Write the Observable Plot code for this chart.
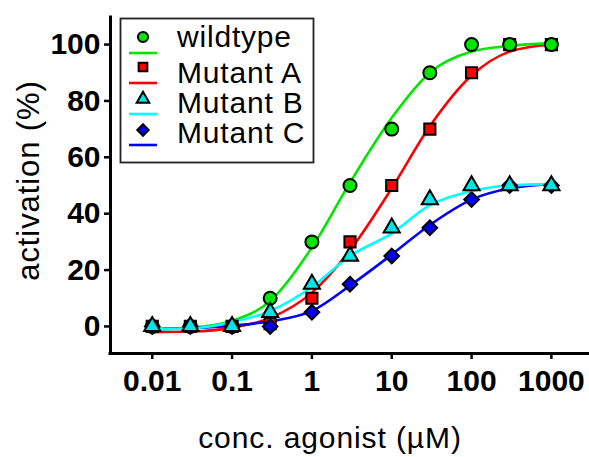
<!DOCTYPE html>
<html><head><meta charset="utf-8">
<script src="https://cdn.jsdelivr.net/npm/d3@7"></script>
<script src="https://cdn.jsdelivr.net/npm/@observablehq/plot@0.6"></script>
<style>
body{margin:0;background:#fff;}
#wrap{position:relative;width:589px;height:457px;font-family:"Liberation Sans",Arial,sans-serif;}
#wrap svg{display:block;}
#legend{position:absolute;left:0;top:0;pointer-events:none;}
</style></head><body><div id="wrap"></div>
<script>
// ---- data ----
const conc = [0.01, 0.03, 0.1, 0.3, 1, 3, 10, 30, 100, 300, 1000];
const wildtype = [0, 0, 0, 10, 30, 50, 70, 90, 100, 100, 100];
const mutantA  = [0, 0, 0, 1, 10, 30, 50, 70, 90, 100, 100];
const mutantB  = [0, 0, 0, 5, 15, 25, 35, 45, 50, 50, 50];
const mutantC  = [0, 0, 0, 0, 5, 15, 25, 35, 45, 50, 50];
// fitted curves at the same concentrations
const fitWildtype = [-1, -0.5, 2, 9, 28, 51, 74, 90, 97.5, 99.5, 100.5];
const fitMutantA  = [-2, -1.8, -0.5, 3, 12, 27, 49, 71, 89, 97.5, 100];
const fitMutantB  = [-1, -0.7, 1.5, 5.5, 14, 25, 33, 43, 48, 50, 50.5];
const fitMutantC  = [-1, -0.6, 0.3, 1.8, 5.5, 14.5, 25.5, 36, 45, 49, 50.5];
const seriesNames = ["wildtype", "Mutant A", "Mutant B", "Mutant C"];
const xTicks = [0.01, 0.1, 1, 10, 100, 1000];
const xTickLabels = ["0.01", "0.1", "1", "10", "100", "1000"];
const yTicks = [0, 20, 40, 60, 80, 100];
const xDomain = [0.003, 3000];
const yDomain = [-9.6, 109.6];
const xLabel = "conc. agonist (µM)";
const yLabel = "activation (%)";

// ---- styles ----
const styles = {
  "wildtype": {line: "#00e600", fill: "#00e600", symbol: "circle", r: 6.5},
  "Mutant A": {line: "#ff0000", fill: "#ff0000", symbol: "square", r: 6.3},
  "Mutant B": {line: "#00ffff", fill: "#00e5e5", symbol: "triangle", r: 6.0},
  "Mutant C": {line: "#0000ff", fill: "#0000ee", symbol: "diamond2", r: 6.6}
};
const values = {"wildtype": wildtype, "Mutant A": mutantA, "Mutant B": mutantB, "Mutant C": mutantC};
const fits = {"wildtype": fitWildtype, "Mutant A": fitMutantA, "Mutant B": fitMutantB, "Mutant C": fitMutantC};
const rows = name => conc.map((x, i) => ({x, y: values[name][i]}));
const fitRows = name => conc.map((x, i) => ({x, y: fits[name][i]}));

const lineOrder = ["Mutant A", "wildtype", "Mutant C", "Mutant B"];
const dotOrder = ["Mutant A", "wildtype", "Mutant C", "Mutant B"];
const font = "'Liberation Sans', Arial, sans-serif";

const marks = [];
for (const n of lineOrder) {
  marks.push(Plot.line(fitRows(n), {x: "x", y: "y", stroke: styles[n].line, strokeWidth: 2.6, curve: "monotone-x"}));
}
for (const n of dotOrder) {
  marks.push(Plot.dot(rows(n), {x: "x", y: "y", symbol: () => styles[n].symbol, r: styles[n].r,
    fill: styles[n].fill, stroke: "black", strokeWidth: 2}));
}
marks.push(
  Plot.axisX({ticks: xTicks, tickFormat: d => xTickLabels[xTicks.indexOf(d)], tickSize: 6, tickPadding: 10,
    fontSize: 30, fontWeight: "bold", strokeWidth: 2.5, label: null}),
  Plot.axisY({ticks: yTicks, tickSize: 6, tickPadding: 4, fontSize: 30, fontWeight: "bold", strokeWidth: 2.5, label: null}),
  Plot.ruleX([xDomain[0]], {stroke: "black", strokeWidth: 3, strokeLinecap: "square"}),
  Plot.ruleY([yDomain[0]], {stroke: "black", strokeWidth: 3, strokeLinecap: "square"}),
  Plot.text([yLabel], {text: d => d, frameAnchor: "left", textAnchor: "middle", lineAnchor: "middle",
    dx: -81, dy: -5, rotate: -90, fontSize: 31, fill: "black"}),
  Plot.text([xLabel], {text: d => d, frameAnchor: "bottom", textAnchor: "middle", lineAnchor: "middle",
    dx: -20, dy: 85, fontSize: 30, fill: "black"})
);

const chart = Plot.plot({
  width: 589, height: 457,
  marginLeft: 110, marginRight: 0, marginTop: 17, marginBottom: 104,
  style: {fontFamily: font, color: "black", background: "white", overflow: "visible"},
  x: {type: "log", domain: xDomain},
  y: {domain: yDomain},
  marks
});
const wrap = document.getElementById("wrap");
wrap.appendChild(chart);
// letter spacing for the axis titles
d3.select(chart).selectAll("text").filter(function() { return this.textContent === xLabel; })
  .style("letter-spacing", "0.9px");
d3.select(chart).selectAll("text").filter(function() { return this.textContent === yLabel; })
  .style("letter-spacing", "0.9px");

// ---- legend overlay ----
const leg = d3.select(wrap).append("svg").attr("id", "legend").attr("width", 589).attr("height", 457);
leg.append("rect").attr("x", 120.5).attr("y", 18.5).attr("width", 193).attr("height", 144)
  .attr("fill", "white").attr("stroke", "#222").attr("stroke-width", 1.8);
const d3sym = {circle: d3.symbolCircle, square: d3.symbolSquare, triangle: d3.symbolTriangle, diamond2: d3.symbolDiamond2};
const symY = [37, 67, 99, 130];
const lineY = [53, 83, 114, 145];
const textY = [47, 83, 113, 143];
seriesNames.forEach((n, i) => {
  const s = styles[n];
  const r = s.r * 0.78;
  leg.append("line").attr("x1", 129).attr("x2", 157).attr("y1", lineY[i]).attr("y2", lineY[i])
    .attr("stroke", s.line).attr("stroke-width", 2.6);
  leg.append("path").attr("d", d3.symbol(d3sym[s.symbol], Math.PI * r * r)())
    .attr("transform", `translate(143,${symY[i]})`).attr("fill", s.fill).attr("stroke", "black").attr("stroke-width", 2);
  leg.append("text").attr("x", 177).attr("y", textY[i]).attr("font-size", 30).attr("font-family", font)
    .attr("letter-spacing", 0.8).attr("fill", "black").text(n);
});
</script></body></html>
